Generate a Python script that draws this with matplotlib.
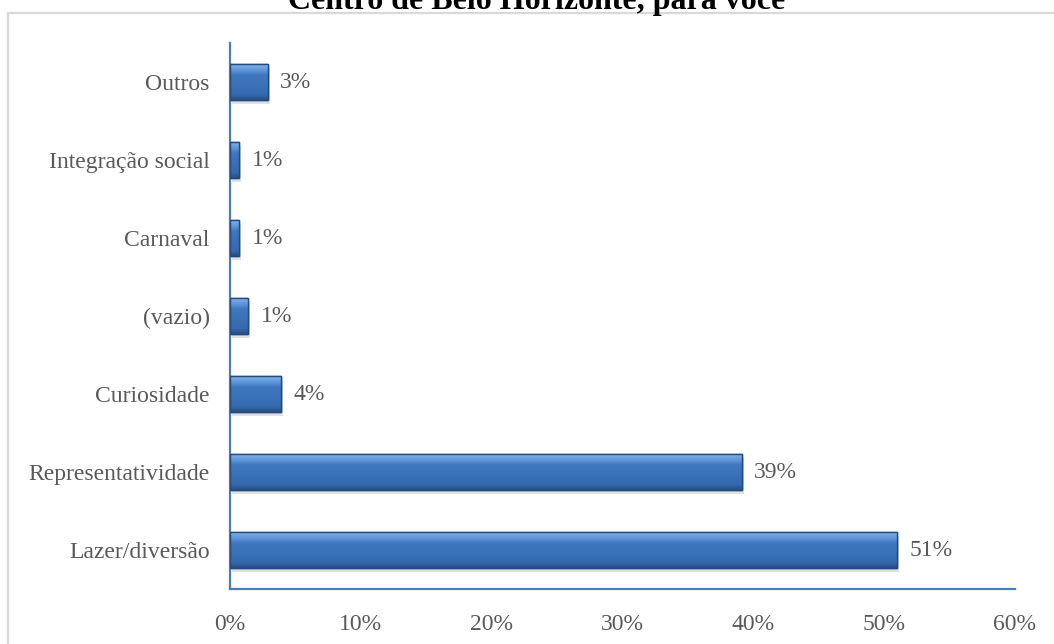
import numpy as np
import matplotlib.pyplot as plt
from matplotlib.patches import Rectangle
from matplotlib.colors import LinearSegmentedColormap

# categories listed bottom to top
categorias = ['Lazer/diversão', 'Representatividade', 'Curiosidade', '(vazio)',
              'Carnaval', 'Integração social', 'Outros']
percentuais = [51.0, 39.1, 3.9, 1.4, 0.7, 0.7, 2.9]
ticks_x = [0, 10, 20, 30, 40, 50, 60]

plt.rcParams['font.family'] = ['Liberation Serif', 'DejaVu Serif']
cinza = '#595959'
azul_eixo = '#4a7ebb'

fig = plt.figure(figsize=(10.54, 6.44), dpi=100)
ax = fig.add_axes([230 / 1054, 1 - 589 / 644, 785 / 1054, (589 - 43) / 644])

pos = np.arange(len(categorias))
barras = ax.barh(pos, percentuais, height=0.46, color='#3a70b5',
                 edgecolor='#24497c', linewidth=1.0, zorder=3)

# bevel-like shading inside each bar
grad = np.linspace(0, 1, 64).reshape(-1, 1)
cmap = LinearSegmentedColormap.from_list(
    'bevel', [(0, '#284f86'), (0.15, '#356ab0'), (0.7, '#3f78c0'),
              (0.82, '#5a92d6'), (1, '#80b3e8')])
for b in barras:
    x0, y0 = b.get_x(), b.get_y()
    w, h = b.get_width(), b.get_height()
    im = ax.imshow(grad, cmap=cmap, aspect='auto', origin='lower',
                   extent=(x0, x0 + w, y0, y0 + h), zorder=4,
                   interpolation='bilinear')
    im.set_clip_path(b)
    # soft shadow under the bar
    ax.add_patch(Rectangle((x0 + 0.15, y0 - 0.05), w, h, color='#000000',
                           alpha=0.12, lw=0, zorder=2))
    ax.add_patch(Rectangle((x0, y0), w, h, fill=False, ec='#24497c',
                           lw=1.0, zorder=5))

for y, v in zip(pos, percentuais):
    ax.text(v + 0.95, y, f'{v:.0f}%', va='center', ha='left',
            fontsize=17, color=cinza)

ax.set_xlim(0, 60)
ax.set_ylim(-0.5, len(categorias) - 0.5)
ax.set_xticks(ticks_x)
ax.set_xticklabels([f'{t}%' for t in ticks_x])
ax.set_yticks(pos)
ax.set_yticklabels(categorias)
ax.tick_params(axis='both', length=0, labelsize=17, labelcolor=cinza)
ax.tick_params(axis='y', pad=14.5)
ax.tick_params(axis='x', pad=18)

for s in ['top', 'right']:
    ax.spines[s].set_visible(False)
for s in ['left', 'bottom']:
    ax.spines[s].set_color(azul_eixo)
    ax.spines[s].set_linewidth(1.6)

# outer chart frame
fig.add_artist(Rectangle((7.5 / 1054, -0.05), 1.1, 1.05 - 12.5 / 644,
                         transform=fig.transFigure, fill=False,
                         ec='#d9d9d9', lw=1.6))

fig.text(537 / 1054, 1 - 9 / 644, 'Centro de Belo Horizonte, para você',
         ha='center', va='baseline', fontsize=23, fontweight='bold',
         color='black')

fig.savefig('out.png', dpi=100)
